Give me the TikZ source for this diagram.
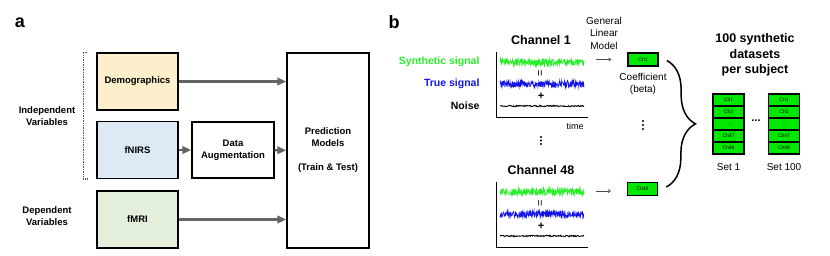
\documentclass[tikz,border=0pt]{standalone}
\usepackage{fontspec}
\setmainfont{Liberation Sans}
\usetikzlibrary{arrows.meta,positioning,decorations.pathreplacing}
\definecolor{democ}{RGB}{253,239,203}
\definecolor{nirsc}{RGB}{222,233,246}
\definecolor{mric}{RGB}{227,239,218}
\definecolor{sigg}{RGB}{40,240,40}
\definecolor{sigb}{RGB}{20,20,230}
\definecolor{cellg}{RGB}{0,232,0}
\definecolor{arrc}{RGB}{100,100,100}

\begin{document}
\begin{tikzpicture}[x=1pt,y=-1pt,
  box/.style={draw,line width=1.4pt,font=\fontsize{9.5}{12}\selectfont\bfseries,align=center,inner sep=1pt},
  garrow/.style={draw=arrc,line width=2.2pt,-{Triangle[length=9pt,width=7.5pt]}},
  lab/.style={font=\fontsize{9.5}{12}\selectfont\bfseries,align=center},
  sig/.style={font=\fontsize{10.5}{12}\selectfont\bfseries,anchor=east},
  coef/.style={draw,line width=1.5pt,fill=cellg,minimum width=30pt,minimum height=13pt,inner sep=0pt,font=\fontsize{5}{6}\selectfont},
  cell/.style={coef,minimum width=31pt,minimum height=12pt},
  thinar/.style={draw=black!70,line width=0.6pt,-{To[length=3pt,width=4pt]}},
  txt/.style={font=\fontsize{10}{12.5}\selectfont,align=center}]
\useasboundingbox (0,0) rectangle (830,255);
% --- panel a: inputs ---
\node[font=\fontsize{18}{20}\selectfont\bfseries] (pa) at (20,23) {a};
\node[box,fill=democ,minimum width=81pt,minimum height=57pt] (demo) at (137.5,81.5) {Demographics};
\node[box,fill=nirsc,minimum width=81pt,minimum height=57pt] (fnirs) at (137.5,150) {fNIRS};
\node[box,fill=mric,minimum width=81pt,minimum height=57pt] (fmri) at (137.5,219.5) {fMRI};
\node[box,minimum width=82pt,minimum height=56pt] (aug) at (233,150) {Data\\Augmentation};
\node[box,minimum width=82pt,minimum height=195pt] (pred) at (328,150.5) {Prediction\\Models\\[12pt](Train \& Test)};
\draw[garrow] (demo.east) -- (demo.east -| pred.west);
\draw[garrow] (fnirs) -- (aug);
\draw[garrow] (aug) -- (pred);
\draw[garrow] (fmri.east) -- (fmri.east -| pred.west);
% --- variable groups ---
\draw[black!65,line width=1.5pt,dash pattern=on 1pt off 0.7pt]
  ([xshift=-9pt]demo.north west) -- ([xshift=-13pt]demo.north west)
  -- ([xshift=-13pt]fnirs.south west) -- ([xshift=-9pt]fnirs.south west);
\node[lab] (indep) at (47,116) {Independent\\Variables};
\node[lab] (dep) at (47,216.5) {Dependent\\Variables};
% --- panel b: channels ---
\node[font=\fontsize{18}{20}\selectfont\bfseries] (pb) at (394,22) {b};
\pgfmathsetseed{17}
\foreach \off/\nm in {0/1,130/48} {
  \node[font=\fontsize{12.5}{14}\selectfont\bfseries] (chan\nm) at (541,40+\off) {Channel \nm};
  \draw[line width=0.8pt] (496,52+\off) -- (496,117+\off) -- (588,117+\off);
  \draw[sigg,line width=0.7pt] plot[domain=500:584,samples=260] (\x,{62+\off+3.3*rand});
  \node[font=\fontsize{11}{11}\selectfont,rotate=90] (eq\nm) at (541,73+\off) {=};
  \draw[sigb,line width=0.7pt] plot[domain=500:584,samples=260] (\x,{84+\off+3.3*rand});
  \node[font=\fontsize{11}{11}\selectfont\bfseries] (plus\nm) at (541,96+\off) {+};
  \draw[black,line width=0.9pt] plot[domain=500:584,samples=120] (\x,{106+\off+0.7*rand});
}
\node[sig,text=sigg] (synlab) at (483,62) {Synthetic signal};
\node[sig,text=sigb] (truelab) at (483,84) {True signal};
\node[sig] (noiselab) at (483,106) {Noise};
\node[font=\fontsize{9}{10}\selectfont] (time) at (575,126) {time};
\foreach \yy in {137,140.5,144} \fill (541,\yy) circle (1.1pt);
% --- coefficients ---
\node[txt] (glm) at (604,33) {General\\Linear\\Model};
\node[coef] (ch1) at (643,59.5) {Ch1};
\node[coef] (ch48) at (642.5,189) {Ch48};
\draw[thinar] ([xshift=-31pt]ch1.west) -- ([xshift=-16pt]ch1.west);
\draw[thinar] ([xshift=-31pt,yshift=-2pt]ch48.west) -- ([xshift=-16pt,yshift=-2pt]ch48.west);
\node[txt] (beta) at (643,84) {Coefficient\\(beta)};
\foreach \yy in {121,125,129} \fill (643,\yy) circle (1.1pt);
\draw[line width=1.5pt,decorate,decoration={brace,amplitude=29pt}]
  ([xshift=8pt,yshift=-1pt]ch1.east) -- ([xshift=8pt,yshift=2pt]ch48.east);
% --- synthetic sets ---
\node[font=\fontsize{12.5}{15.5}\selectfont\bfseries,align=center] (head) at (755,55) {100 synthetic\\datasets\\per subject};
\foreach \s/\xc in {1/728.5,100/784} {
  \foreach \lab [count=\i] in {Ch1,Ch2,\dots,Ch47,Ch48}
    \node[cell] (set\s c\i) at (\xc,{88+12*\i}) {\lab};
  \node[txt] (set\s lab) at (\xc,167) {Set \s};
}
\node[font=\fontsize{11}{12}\selectfont\bfseries] (setdots) at (756,121) {...};
\end{tikzpicture}
\end{document}
